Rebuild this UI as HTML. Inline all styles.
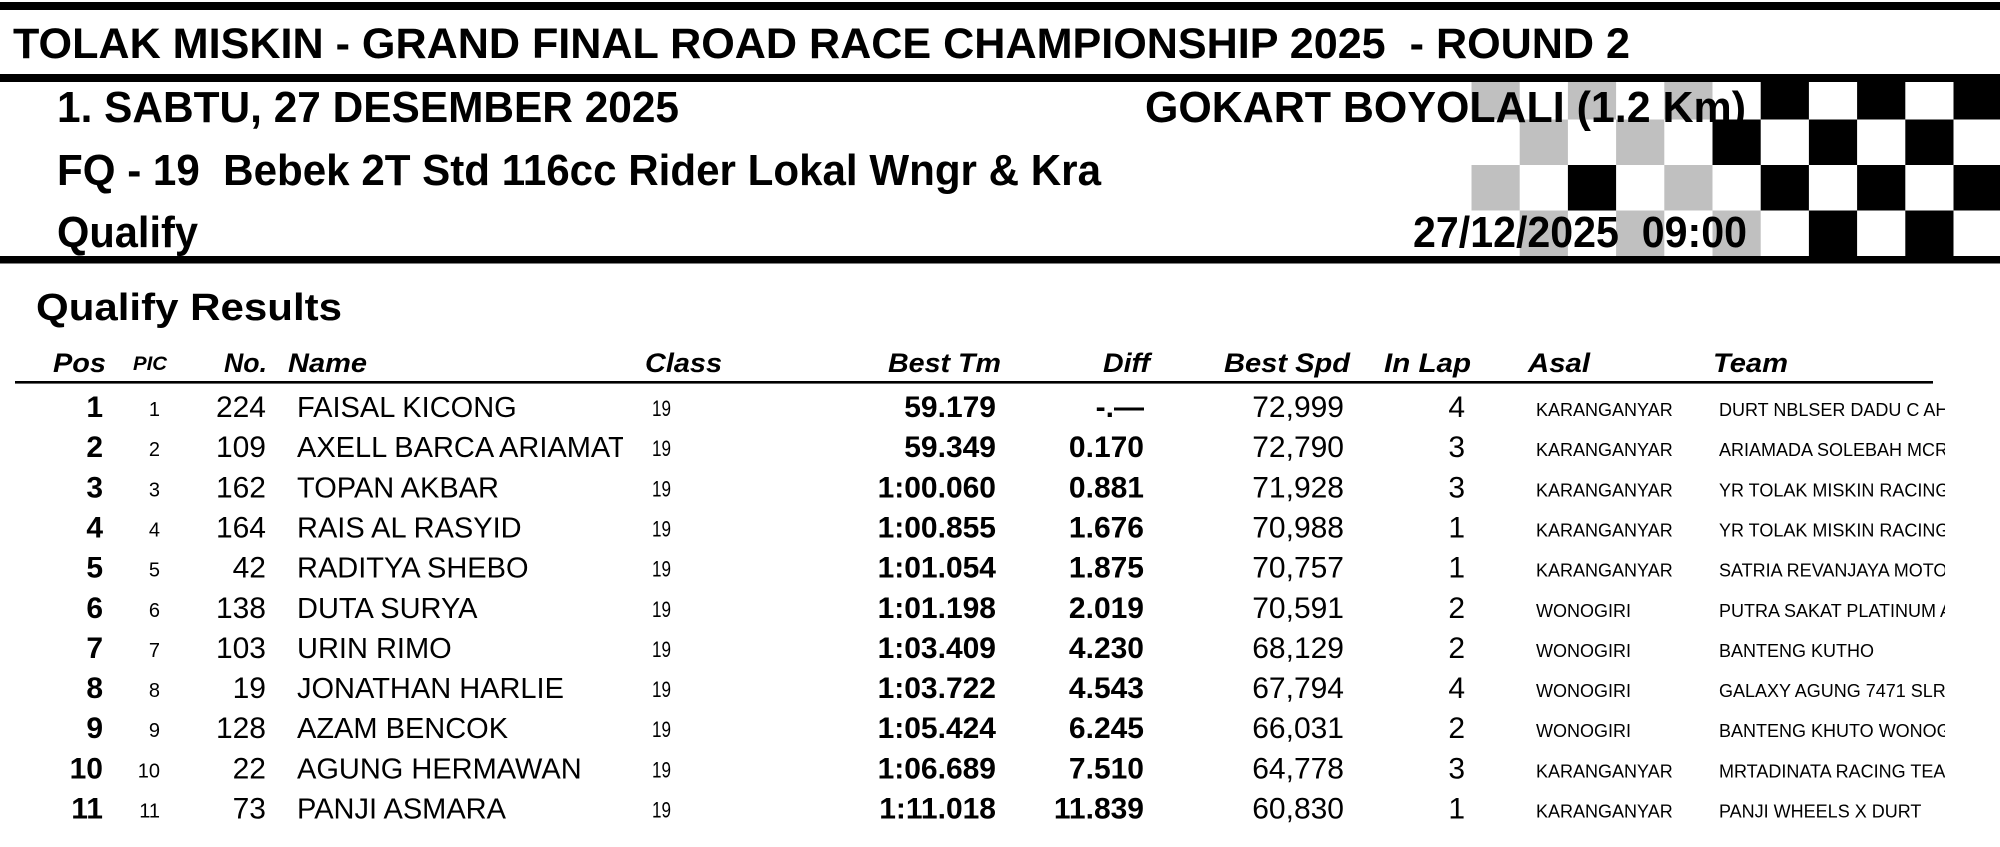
<!DOCTYPE html>
<html><head><meta charset="utf-8"><style>
html,body{margin:0;padding:0;background:#fff;}
svg{display:block;}
text{font-family:"Liberation Sans",Arial,Helvetica,sans-serif;fill:#000;white-space:pre;}
.b{font-weight:bold;}
.h{font-weight:bold;font-style:italic;font-size:27px;}
.r30{font-size:30px;}
.b30{font-size:30px;font-weight:bold;}
.nm{font-size:29px;}
.sm{font-size:18px;}
</style></head><body>
<svg width="2000" height="847" viewBox="0 0 2000 847" xmlns="http://www.w3.org/2000/svg" xml:space="preserve">
<defs>
<clipPath id="cn"><rect x="280" y="385" width="343" height="460"/></clipPath>
<clipPath id="ct"><rect x="1700" y="385" width="245" height="460"/></clipPath>
</defs>
<rect x="0" y="0" width="2000" height="847" fill="#fff"/>
<g fill="#c0c0c0">
<rect x="1471.5" y="74" width="48.2" height="45.5"/>
<rect x="1567.9" y="74" width="48.2" height="45.5"/>
<rect x="1664.3" y="74" width="48.2" height="45.5"/>
<rect x="1519.7" y="119.5" width="48.2" height="45.5"/>
<rect x="1616.1" y="119.5" width="48.2" height="45.5"/>
<rect x="1471.5" y="165" width="48.2" height="45.5"/>
<rect x="1664.3" y="165" width="48.2" height="45.5"/>
<rect x="1519.7" y="210.5" width="48.2" height="45.5"/>
<rect x="1616.1" y="210.5" width="48.2" height="45.5"/>
<rect x="1712.5" y="210.5" width="48.2" height="45.5"/>
</g>
<g fill="#000">
<rect x="1760.7" y="74" width="48.2" height="45.5"/>
<rect x="1857.1" y="74" width="48.2" height="45.5"/>
<rect x="1953.5" y="74" width="48.2" height="45.5"/>
<rect x="1712.5" y="119.5" width="48.2" height="45.5"/>
<rect x="1808.9" y="119.5" width="48.2" height="45.5"/>
<rect x="1905.3" y="119.5" width="48.2" height="45.5"/>
<rect x="1567.9" y="165" width="48.2" height="45.5"/>
<rect x="1760.7" y="165" width="48.2" height="45.5"/>
<rect x="1857.1" y="165" width="48.2" height="45.5"/>
<rect x="1953.5" y="165" width="48.2" height="45.5"/>
<rect x="1808.9" y="210.5" width="48.2" height="45.5"/>
<rect x="1905.3" y="210.5" width="48.2" height="45.5"/>
</g>
<rect x="0" y="2" width="2000" height="8" fill="#000"/>
<rect x="0" y="74" width="2000" height="8" fill="#000"/>
<rect x="0" y="256" width="2000" height="7.5" fill="#000"/>
<text class="b" x="13" y="58" font-size="43" textLength="1617" lengthAdjust="spacingAndGlyphs">TOLAK MISKIN - GRAND FINAL ROAD RACE CHAMPIONSHIP 2025  - ROUND 2</text>
<text class="b" x="57" y="122" font-size="44" textLength="622" lengthAdjust="spacingAndGlyphs">1. SABTU, 27 DESEMBER 2025</text>
<text class="b" x="1145" y="122" font-size="44" textLength="601" lengthAdjust="spacingAndGlyphs">GOKART BOYOLALI (1.2 Km)</text>
<text class="b" x="57" y="185" font-size="44" textLength="1044" lengthAdjust="spacingAndGlyphs">FQ - 19  Bebek 2T Std 116cc Rider Lokal Wngr &amp; Kra</text>
<text class="b" x="57" y="247" font-size="44" textLength="141" lengthAdjust="spacingAndGlyphs">Qualify</text>
<text class="b" x="1413" y="247" font-size="44" textLength="334" lengthAdjust="spacingAndGlyphs">27/12/2025  09:00</text>
<text class="b" x="36" y="320" font-size="38" textLength="306" lengthAdjust="spacingAndGlyphs">Qualify Results</text>
<text class="h" x="53" y="372" textLength="53" lengthAdjust="spacingAndGlyphs">Pos</text>
<text class="h" x="133" y="370" style="font-size:19px" textLength="34" lengthAdjust="spacingAndGlyphs">PIC</text>
<text class="h" x="224" y="372" textLength="43" lengthAdjust="spacingAndGlyphs">No.</text>
<text class="h" x="288" y="372" textLength="79" lengthAdjust="spacingAndGlyphs">Name</text>
<text class="h" x="645" y="372" textLength="77" lengthAdjust="spacingAndGlyphs">Class</text>
<text class="h" x="888" y="372" textLength="113" lengthAdjust="spacingAndGlyphs">Best Tm</text>
<text class="h" x="1103" y="372" textLength="47" lengthAdjust="spacingAndGlyphs">Diff</text>
<text class="h" x="1224" y="372" textLength="126" lengthAdjust="spacingAndGlyphs">Best Spd</text>
<text class="h" x="1384" y="372" textLength="87" lengthAdjust="spacingAndGlyphs">In Lap</text>
<text class="h" x="1528" y="372" textLength="62" lengthAdjust="spacingAndGlyphs">Asal</text>
<text class="h" x="1713" y="372" textLength="75" lengthAdjust="spacingAndGlyphs">Team</text>
<rect x="15" y="381" width="1918" height="2.6" fill="#000"/>
<g class="b30" text-anchor="end">
<text x="103" y="417">1</text>
<text x="103" y="457.2">2</text>
<text x="103" y="497.3">3</text>
<text x="103" y="537.5">4</text>
<text x="103" y="577.6">5</text>
<text x="103" y="617.8">6</text>
<text x="103" y="657.9">7</text>
<text x="103" y="698.1">8</text>
<text x="103" y="738.2">9</text>
<text x="103" y="778.4">10</text>
<text x="103" y="818.5">11</text>
</g>
<g style="font-size:20px" text-anchor="end">
<text x="160" y="416">1</text>
<text x="160" y="456.2">2</text>
<text x="160" y="496.3">3</text>
<text x="160" y="536.5">4</text>
<text x="160" y="576.6">5</text>
<text x="160" y="616.8">6</text>
<text x="160" y="656.9">7</text>
<text x="160" y="697.1">8</text>
<text x="160" y="737.2">9</text>
<text x="160" y="777.4">10</text>
<text x="160" y="817.5">11</text>
</g>
<g class="r30" text-anchor="end">
<text x="266" y="417">224</text>
<text x="266" y="457.2">109</text>
<text x="266" y="497.3">162</text>
<text x="266" y="537.5">164</text>
<text x="266" y="577.6">42</text>
<text x="266" y="617.8">138</text>
<text x="266" y="657.9">103</text>
<text x="266" y="698.1">19</text>
<text x="266" y="738.2">128</text>
<text x="266" y="778.4">22</text>
<text x="266" y="818.5">73</text>
</g>
<g class="nm" clip-path="url(#cn)">
<text x="297" y="417">FAISAL KICONG</text>
<text x="297" y="457.2">AXELL BARCA ARIAMAT</text>
<text x="297" y="497.3">TOPAN AKBAR</text>
<text x="297" y="537.5">RAIS AL RASYID</text>
<text x="297" y="577.6">RADITYA SHEBO</text>
<text x="297" y="617.8">DUTA SURYA</text>
<text x="297" y="657.9">URIN RIMO</text>
<text x="297" y="698.1">JONATHAN HARLIE</text>
<text x="297" y="738.2">AZAM BENCOK</text>
<text x="297" y="778.4">AGUNG HERMAWAN</text>
<text x="297" y="818.5">PANJI ASMARA</text>
</g>
<g style="font-size:22px">
<text x="652" y="416" textLength="19" lengthAdjust="spacingAndGlyphs">19</text>
<text x="652" y="456.2" textLength="19" lengthAdjust="spacingAndGlyphs">19</text>
<text x="652" y="496.3" textLength="19" lengthAdjust="spacingAndGlyphs">19</text>
<text x="652" y="536.5" textLength="19" lengthAdjust="spacingAndGlyphs">19</text>
<text x="652" y="576.6" textLength="19" lengthAdjust="spacingAndGlyphs">19</text>
<text x="652" y="616.8" textLength="19" lengthAdjust="spacingAndGlyphs">19</text>
<text x="652" y="656.9" textLength="19" lengthAdjust="spacingAndGlyphs">19</text>
<text x="652" y="697.1" textLength="19" lengthAdjust="spacingAndGlyphs">19</text>
<text x="652" y="737.2" textLength="19" lengthAdjust="spacingAndGlyphs">19</text>
<text x="652" y="777.4" textLength="19" lengthAdjust="spacingAndGlyphs">19</text>
<text x="652" y="817.5" textLength="19" lengthAdjust="spacingAndGlyphs">19</text>
</g>
<g class="b30" text-anchor="end">
<text x="996" y="417">59.179</text>
<text x="996" y="457.2">59.349</text>
<text x="996" y="497.3">1:00.060</text>
<text x="996" y="537.5">1:00.855</text>
<text x="996" y="577.6">1:01.054</text>
<text x="996" y="617.8">1:01.198</text>
<text x="996" y="657.9">1:03.409</text>
<text x="996" y="698.1">1:03.722</text>
<text x="996" y="738.2">1:05.424</text>
<text x="996" y="778.4">1:06.689</text>
<text x="996" y="818.5">1:11.018</text>
</g>
<g class="b30" text-anchor="end">
<text x="1144" y="417">-.—</text>
<text x="1144" y="457.2">0.170</text>
<text x="1144" y="497.3">0.881</text>
<text x="1144" y="537.5">1.676</text>
<text x="1144" y="577.6">1.875</text>
<text x="1144" y="617.8">2.019</text>
<text x="1144" y="657.9">4.230</text>
<text x="1144" y="698.1">4.543</text>
<text x="1144" y="738.2">6.245</text>
<text x="1144" y="778.4">7.510</text>
<text x="1144" y="818.5">11.839</text>
</g>
<g class="r30" text-anchor="end">
<text x="1344" y="417">72,999</text>
<text x="1344" y="457.2">72,790</text>
<text x="1344" y="497.3">71,928</text>
<text x="1344" y="537.5">70,988</text>
<text x="1344" y="577.6">70,757</text>
<text x="1344" y="617.8">70,591</text>
<text x="1344" y="657.9">68,129</text>
<text x="1344" y="698.1">67,794</text>
<text x="1344" y="738.2">66,031</text>
<text x="1344" y="778.4">64,778</text>
<text x="1344" y="818.5">60,830</text>
</g>
<g class="r30" text-anchor="end">
<text x="1465" y="417">4</text>
<text x="1465" y="457.2">3</text>
<text x="1465" y="497.3">3</text>
<text x="1465" y="537.5">1</text>
<text x="1465" y="577.6">1</text>
<text x="1465" y="617.8">2</text>
<text x="1465" y="657.9">2</text>
<text x="1465" y="698.1">4</text>
<text x="1465" y="738.2">2</text>
<text x="1465" y="778.4">3</text>
<text x="1465" y="818.5">1</text>
</g>
<g class="sm">
<text x="1536" y="416">KARANGANYAR</text>
<text x="1536" y="456.2">KARANGANYAR</text>
<text x="1536" y="496.3">KARANGANYAR</text>
<text x="1536" y="536.5">KARANGANYAR</text>
<text x="1536" y="576.6">KARANGANYAR</text>
<text x="1536" y="616.8">WONOGIRI</text>
<text x="1536" y="656.9">WONOGIRI</text>
<text x="1536" y="697.1">WONOGIRI</text>
<text x="1536" y="737.2">WONOGIRI</text>
<text x="1536" y="777.4">KARANGANYAR</text>
<text x="1536" y="817.5">KARANGANYAR</text>
</g>
<g class="sm" clip-path="url(#ct)">
<text x="1719" y="416">DURT NBLSER DADU C AH</text>
<text x="1719" y="456.2">ARIAMADA SOLEBAH MCR</text>
<text x="1719" y="496.3">YR TOLAK MISKIN RACING TEAM</text>
<text x="1719" y="536.5">YR TOLAK MISKIN RACING TEAM</text>
<text x="1719" y="576.6">SATRIA REVANJAYA MOTOR</text>
<text x="1719" y="616.8">PUTRA SAKAT PLATINUM AIR</text>
<text x="1719" y="656.9">BANTENG KUTHO</text>
<text x="1719" y="697.1">GALAXY AGUNG 7471 SLRT</text>
<text x="1719" y="737.2">BANTENG KHUTO WONOGIRI</text>
<text x="1719" y="777.4">MRTADINATA RACING TEAM</text>
<text x="1719" y="817.5">PANJI WHEELS X DURT</text>
</g>
</svg>
</body></html>
